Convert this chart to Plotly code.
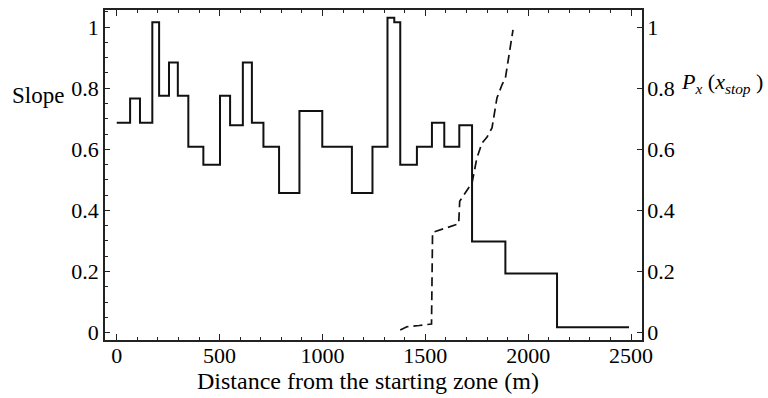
import plotly.graph_objects as go

# Slope profile (step function): segment edges (m) and slope level on each segment
slope_edges = [0, 65, 113, 173, 206, 254, 297, 348, 421, 502, 551, 613, 657, 713,
               789, 888, 999, 1143, 1243, 1316, 1349, 1378, 1459, 1532, 1592, 1665,
               1727, 1889, 2140, 2490]
slope_levels = [0.687, 0.766, 0.687, 1.016, 0.775, 0.884, 0.775, 0.608, 0.549, 0.775,
                0.679, 0.884, 0.687, 0.608, 0.457, 0.725, 0.608, 0.457, 0.608, 1.031,
                1.016, 0.549, 0.608, 0.687, 0.608, 0.679, 0.298, 0.193, 0.017]

# Stopping probability curve P_x(x_stop)
p_x = [1378, 1410, 1470, 1530, 1535, 1600, 1662, 1667, 1686, 1727, 1750, 1775, 1800,
       1824, 1848, 1873, 1889, 1905, 1916, 1926]
p_val = [0.008, 0.019, 0.023, 0.028, 0.328, 0.342, 0.356, 0.43, 0.448, 0.49, 0.57,
         0.62, 0.64, 0.67, 0.768, 0.812, 0.833, 0.898, 0.942, 0.991]

y_ticks = [0, 0.2, 0.4, 0.6, 0.8, 1.0]
y_ticktext = ["0", "0.2", "0.4", "0.6", "0.8", "1"]
x_ticks = [0, 500, 1000, 1500, 2000, 2500]

FONT = "Liberation Serif"
INK = "#222222"

fig = go.Figure()
fig.add_trace(go.Scatter(
    x=slope_edges, y=slope_levels + [slope_levels[-1]],
    mode="lines", line=dict(color="#111111", width=2, shape="hv"),
    showlegend=False, hoverinfo="skip"))
fig.add_trace(go.Scatter(
    x=p_x, y=p_val, yaxis="y2",
    mode="lines", line=dict(color="#111111", width=1.7, dash="9px,5px"),
    showlegend=False, hoverinfo="skip"))

yr = [-0.0244, 1.056]
fig.update_layout(
    width=768, height=398,
    margin=dict(l=105, r=126, t=8, b=58),
    paper_bgcolor="white", plot_bgcolor="white",
    font=dict(family=FONT, size=22, color="black"),
    xaxis=dict(range=[-57, 2553], tickvals=x_ticks, ticks="inside", ticklen=6,
               tickwidth=1, tickcolor=INK, showline=True, linewidth=1.5,
               linecolor=INK, mirror="ticks", showgrid=False, zeroline=False,
               ticklabelstandoff=-5,
               minor=dict(dtick=100, ticks="inside", ticklen=3, tickcolor=INK,
                          showgrid=False)),
    yaxis=dict(range=yr, tickvals=y_ticks, ticktext=y_ticktext, ticks="inside",
               ticklen=5, tickwidth=1, tickcolor=INK, showline=True, linewidth=1.5,
               linecolor=INK, showgrid=False, zeroline=False,
               minor=dict(dtick=0.05, tick0=0, ticks="inside", ticklen=3,
                          tickcolor=INK, showgrid=False)),
    yaxis2=dict(range=yr, tickvals=y_ticks, ticktext=y_ticktext, ticks="inside",
                ticklen=5, tickwidth=1, tickcolor=INK, showline=True, linewidth=1.5,
                linecolor=INK, showgrid=False, zeroline=False, overlaying="y",
                side="right", ticklabelstandoff=-1),
    annotations=[
        dict(text="Slope", xref="paper", yref="paper", x=-0.177, y=0.74,
             showarrow=False, xanchor="left", yanchor="middle",
             font=dict(family=FONT, size=23, color="black")),
        dict(text="<i>P</i><sub><i>x</i></sub>&nbsp;(<i>x</i><sub><i>stop</i></sub>&nbsp;)",
             xref="paper", yref="paper", x=1.069, y=0.778, showarrow=False,
             xanchor="left", yanchor="middle",
             font=dict(family=FONT, size=22, color="black")),
        dict(text="Distance from the starting zone (m)", xref="paper", yref="paper",
             x=0.49, y=-0.125, showarrow=False, xanchor="center", yanchor="middle",
             font=dict(family=FONT, size=24, color="black")),
    ],
)

fig.write_html("out.html")
